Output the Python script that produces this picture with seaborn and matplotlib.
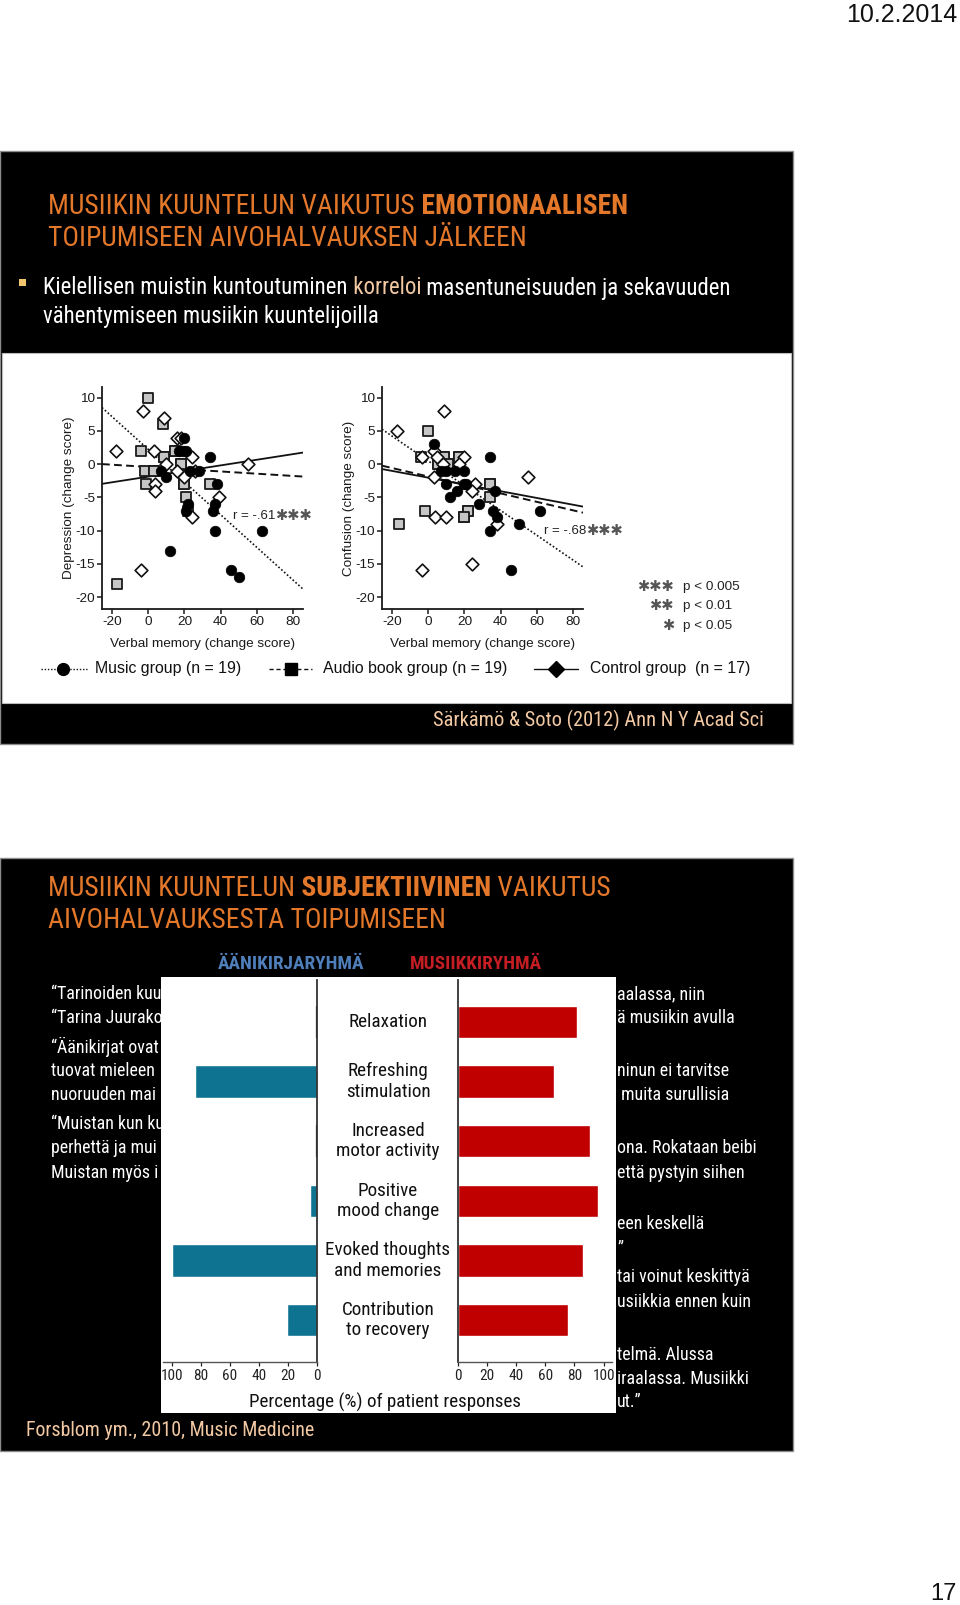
import numpy as np
import matplotlib
matplotlib.use('Agg')
import matplotlib.pyplot as plt
import matplotlib.font_manager as fm
import matplotlib.transforms as mtrans
from matplotlib.patches import Rectangle
from matplotlib.lines import Line2D
import seaborn as sns

# ---------------- data ----------------
# Depression vs verbal memory
dep_music_x = [20, 19, 21, 17, 7, 10, 28, 34, 38, 37, 36, 21, 22, 37, 63, 12, 46, 50, 23]
dep_music_y = [4, 2, 2, 2, -1, -2, -1, 1, -3, -6, -7, -7, -6, -10, -10, -13, -16, -17, -1]
dep_audio_x = [0, 8, -4, -2, -1, 3, 9, 15, 18, 20, 21, 22, 34, -17, 18, 20, 15, 9, 3]
dep_audio_y = [10, 6, 2, -1, -3, -1, 1, 2, 0, -3, -5, -7, -3, -18, 0, -3, 2, 1, -1]
dep_ctrl_x = [-3, 9, -18, 3, 16, 10, 4, 4, 24, 20, 39, 24, 55, -4, 18, 16, 26]
dep_ctrl_y = [8, 7, 2, 2, 4, 0, -3, -4, 1, -2, -5, -8, 0, -16, 4, -1, -1]
dep_fit_music = [2.23, -0.246]      # intercept, slope
dep_fit_audio = [-0.43, -0.0169]
dep_fit_ctrl = [-1.89, 0.0424]

# Confusion vs verbal memory
con_music_x = [3, 34, 7, 10, 15, 20, 10, 12, 16, 20, 21, 28, 37, 36, 38, 34, 50, 62, 46]
con_music_y = [3, 1, -1, -1, -1, -1, -3, -5, -4, -3, -3, -6, -4, -7, -8, -10, -9, -7, -16]
con_audio_x = [0, -4, 5.5, 9, 11, 17, 34, 34, -2, 22, 20, -16, 5.5, 9, 11, 17, 34, 22, 20]
con_audio_y = [5, 1, 0, 1, 0, 1, -3, -5, -7, -7, -8, -9, 0, 1, 0, 1, -3, -7, -8]
con_ctrl_x = [-17, 9, -3.5, 3, 3, 20, 26, 24, 38, 55, 4, 10, -3.5, 24, 17, 5, 8]
con_ctrl_y = [5, 8, 1, 2, -2, 1, -3, -4, -9, -2, -8, -8, -16, -15, 0, 1, 0]
con_fit_music = [0.49, -0.1866]
con_fit_audio = [-1.86, -0.0637]
con_fit_ctrl = [-2.04, -0.0509]

scatter_xticks = [-20, 0, 20, 40, 60, 80]
scatter_yticks = [10, 5, 0, -5, -10, -15, -20]

# Subjective effects (percentage of patient responses)
reasons = ['Relaxation', 'Refreshing\nstimulation', 'Increased\nmotor activity',
           'Positive\nmood change', 'Evoked thoughts\nand memories', 'Contribution\nto recovery']
audio_pct = [0, 84, 0, 5, 100, 21]
music_pct = [82, 66, 91, 96, 86, 76]
pct_ticks = [0, 20, 40, 60, 80, 100]

# ---------------- setup ----------------
sns.set_theme(style='ticks')
plt.rcParams['font.family'] = ['Liberation Sans', 'DejaVu Sans']
plt.rcParams['axes.unicode_minus'] = False

avail = {f.name for f in fm.fontManager.ttflist}
NARROW = 'Liberation Sans'
for cand in ['Liberation Sans Narrow', 'Arial Narrow', 'Nimbus Sans Narrow', 'Roboto Condensed',
             'Open Sans Condensed', 'DejaVu Sans Condensed']:
    if cand in avail:
        NARROW = cand
        break
NF = [NARROW, 'DejaVu Sans']
AF = ['Liberation Sans', 'DejaVu Sans']

W, H = 960, 1605
fig = plt.figure(figsize=(9.6, 16.05), dpi=100)
fig.patch.set_facecolor('white')
bg = fig.add_axes([0, 0, 1, 1])
bg.set_xlim(0, W)
bg.set_ylim(H, 0)
bg.axis('off')
R = fig.canvas.get_renderer()


def fax(x0, y0, x1, y1):
    return fig.add_axes([x0 / W, 1 - y1 / H, (x1 - x0) / W, (y1 - y0) / H])


def width_of(s, size, family, weight='normal'):
    t = bg.text(0, 0, s, fontsize=size, family=family, fontweight=weight)
    w = t.get_window_extent(R).width
    t.remove()
    return w


def fit_size(parts, target, family, base=20.0):
    tot = sum(width_of(s, base, family, wgt) for s, _, wgt in parts)
    return base * target / tot


def rich(x, y, parts, size, family, zorder=3):
    prev = None
    for s, color, wgt in parts:
        if prev is None:
            prev = bg.text(x, y, s, fontsize=size, family=family, color=color, fontweight=wgt,
                           va='center', ha='left', zorder=zorder)
        else:
            prev = bg.annotate(s, xy=(1, 0), xycoords=prev, va='bottom', ha='left', fontsize=size,
                               family=family, color=color, fontweight=wgt, zorder=zorder)
    return prev


ORANGE = '#E4782A'
PEACH = '#F3C9A3'
WHITE = 'white'

# header / footer
bg.text(957, 15, '10.2.2014', ha='right', va='center', fontsize=18, family=AF, color='#111')
bg.text(957, 1594, '17', ha='right', va='center', fontsize=17, family=AF, color='#111')

# ---------------- slide 1 ----------------
bg.add_patch(Rectangle((0, 151), 793, 593, fc='black', ec='#8c8c8c', lw=1, zorder=1))
bg.add_patch(Rectangle((2, 353), 789, 350, fc='white', ec='#bdbdbd', lw=0.8, zorder=1.5))

t1 = [('MUSIIKIN KUUNTELUN VAIKUTUS', ORANGE, 'normal'), (' EMOTIONAALISEN', ORANGE, 'bold')]
tsize = fit_size(t1, 578, NF)
rich(48, 206, t1, tsize, NF)
rich(48, 238, [('TOIPUMISEEN AIVOHALVAUKSEN JÄLKEEN', ORANGE, 'normal')], tsize, NF)

b1 = [('Kielellisen muistin kuntoutuminen', WHITE, 'normal'), (' korreloi', PEACH, 'normal'),
      (' masentuneisuuden ja sekavuuden', WHITE, 'normal')]
bsize = fit_size(b1, 686, NF)
bg.add_patch(Rectangle((19, 279), 7, 7, fc='#F2C46D', ec='none', zorder=3))
rich(43, 288, b1, bsize, NF)
rich(43, 317, [('vähentymiseen musiikin kuuntelijoilla', WHITE, 'normal')], bsize, NF)

c1 = [('Särkämö & Soto (2012) Ann N Y Acad Sci', PEACH, 'normal')]
csize = fit_size(c1, 330, NF)
bg.text(764, 720, c1[0][0], ha='right', va='center', fontsize=csize, family=NF, color=PEACH, zorder=3)


def scatter_panel(ax, mx, my, ax_, ay_, cx, cy, fits, ylabel):
    ax.set_xlim(-25.5, 85.5)
    ax.set_ylim(-21.8, 11.6)
    xs = np.array(ax.get_xlim())
    styles = [((0, (1, 1.3)), 1.2), ((0, (4, 2.2)), 1.4), ('-', 1.3)]
    for (b, m), (ls, lw) in zip(fits, styles):
        ax.plot(xs, b + m * xs, color='#111', ls=ls, lw=lw, zorder=2)
    sns.scatterplot(x=ax_, y=ay_, marker='s', s=46, color='#c6c6c6', edgecolor='#1a1a1a',
                    linewidth=1.3, ax=ax, zorder=3, legend=False)
    sns.scatterplot(x=cx, y=cy, marker='D', s=42, color='white', edgecolor='#111',
                    linewidth=1.2, ax=ax, zorder=3, legend=False)
    sns.scatterplot(x=mx, y=my, marker='o', s=58, color='black', edgecolor='black',
                    linewidth=0.5, ax=ax, zorder=4, legend=False)
    ax.set_xticks(scatter_xticks)
    ax.set_yticks(scatter_yticks)
    sns.despine(ax=ax)
    for sp in ['left', 'bottom']:
        ax.spines[sp].set_linewidth(1.3)
        ax.spines[sp].set_color('#1a1a1a')
    ax.tick_params(direction='out', length=3.5, width=1.1, labelsize=9.7, pad=1.5,
                   colors='#1a1a1a')
    ax.set_xlabel('Verbal memory (change score)', fontsize=9.7, labelpad=7, color='#1a1a1a')
    ax.set_ylabel(ylabel, fontsize=9.7, labelpad=0.5, color='#1a1a1a')
    ax.patch.set_alpha(0)


axD = fax(102, 387, 303, 609)
scatter_panel(axD, dep_music_x, dep_music_y, dep_audio_x, dep_audio_y, dep_ctrl_x, dep_ctrl_y,
              [dep_fit_music, dep_fit_audio, dep_fit_ctrl], 'Depression (change score)')
axC = fax(382, 387, 583, 609)
scatter_panel(axC, con_music_x, con_music_y, con_audio_x, con_audio_y, con_ctrl_x, con_ctrl_y,
              [con_fit_music, con_fit_audio, con_fit_ctrl], 'Confusion (change score)')

STAR = '✱'
bg.text(233, 516, 'r = -.61', fontsize=9.5, family=AF, va='center', ha='left', color='#222', zorder=3)
bg.text(275, 516, STAR * 3, fontsize=10.5, family=AF, va='center', ha='left', color='#555', zorder=3)
bg.text(544, 531, 'r = -.68', fontsize=9.5, family=AF, va='center', ha='left', color='#222', zorder=3)
bg.text(586, 531, STAR * 3, fontsize=10.5, family=AF, va='center', ha='left', color='#555', zorder=3)
for n, lab, yy in [(3, 'p < 0.005', 587), (2, 'p < 0.01', 606), (1, 'p < 0.05', 626)]:
    bg.text(674, yy, STAR * n, fontsize=10.5, family=AF, va='center', ha='right', color='#555', zorder=3)
    bg.text(683, yy, lab, fontsize=9.7, family=AF, va='center', ha='left', color='#222', zorder=3)

# legend of groups
leg = [(41, 87, 63, (0, (1, 1.3)), 'o', 8.5, 95, 'Music group (n = 19)'),
       (269, 312, 291, (0, (3, 2)), 's', 8.0, 323, 'Audio book group (n = 19)'),
       (534, 578, 556, '-', 'D', 8.5, 590, 'Control group  (n = 17)')]
for x0, x1, xm, ls, mk, ms, xt, lab in leg:
    bg.add_line(Line2D([x0, x1], [669, 669], color='#111', ls=ls, lw=1.0, zorder=3))
    bg.add_line(Line2D([xm], [669], marker=mk, ms=ms, color='black', ls='none', zorder=3))
    bg.text(xt, 669, lab, fontsize=11.4, family=AF, va='center', ha='left', color='#111', zorder=3)

# ---------------- slide 2 ----------------
bg.add_patch(Rectangle((0, 858), 793, 593, fc='black', ec='#8c8c8c', lw=1, zorder=1))
t2 = [('MUSIIKIN KUUNTELUN', ORANGE, 'normal'), (' SUBJEKTIIVINEN', ORANGE, 'bold'),
      (' VAIKUTUS', ORANGE, 'normal')]
rich(48, 888, t2, tsize, NF)
rich(48, 921, [('AIVOHALVAUKSESTA TOIPUMISEEN', ORANGE, 'normal')], tsize, NF)

hsize = fit_size([('ÄÄNIKIRJARYHMÄ', '', 'bold')], 147, NF)
bg.text(291.5, 964, 'ÄÄNIKIRJARYHMÄ', fontsize=hsize, family=NF, fontweight='bold', color='#4F7FBA',
        ha='center', va='center', zorder=3)
bg.text(475.5, 964, 'MUSIIKKIRYHMÄ', fontsize=hsize, family=NF, fontweight='bold', color='#C41E24',
        ha='center', va='center', zorder=3)

qsize = fit_size([('ä musiikin avulla', '', 'normal')], 118, NF)
left_frag = [('“Tarinoiden kuu', 994), ('“Tarina Juurako', 1018), ('“Äänikirjat ovat', 1047),
             ('tuovat mieleen', 1071), ('nuoruuden mai', 1095), ('“Muistan kun ku', 1124),
             ('perhettä ja mui', 1148), ('Muistan myös i', 1173)]
right_frag = [('aalassa, niin', 994), ('ä musiikin avulla', 1018), ('ninun ei tarvitse', 1071),
              (' muita surullisia', 1095), ('ona. Rokataan beibi', 1148), ('että pystyin siihen', 1173),
              ('een keskellä', 1224), ('”', 1249), ('tai voinut keskittyä', 1277),
              ('usiikkia ennen kuin', 1302), ('telmä. Alussa', 1355), ('iraalassa. Musiikki', 1379),
              ('ut.”', 1402)]
for s, yy in left_frag:
    bg.text(51, yy, s, fontsize=qsize, family=NF, color='white', va='center', ha='left', zorder=3)
for s, yy in right_frag:
    bg.text(617, yy, s, fontsize=qsize, family=NF, color='white', va='center', ha='left', zorder=3)

fsize = fit_size([('Forsblom ym., 2010, Music Medicine', '', 'normal')], 288, NF)
bg.text(26, 1430, 'Forsblom ym., 2010, Music Medicine', fontsize=fsize, family=NF, color=PEACH,
        va='center', ha='left', zorder=3)

# white panel of the bar figure
bg.add_patch(Rectangle((161, 977), 455, 436, fc='white', ec='none', zorder=5))
psize = fit_size([('Percentage (%) of patient responses', '', 'normal')], 272, NF)
bg.text(385, 1402, 'Percentage (%) of patient responses', fontsize=psize, family=NF, color='#111',
        ha='center', va='center', zorder=6)

BLUE = '#0E7391'
RED = '#C00000'
axL = fax(163, 980, 317.3, 1362)
axR = fax(457.5, 980, 612, 1362)
sns.barplot(x=audio_pct, y=reasons, orient='h', color=BLUE, saturation=1, width=0.54, ax=axL)
sns.barplot(x=music_pct, y=reasons, orient='h', color=RED, saturation=1, width=0.54, ax=axR)
for p in axL.patches:
    if p.get_width() == 0:
        p.set_edgecolor('#222')
        p.set_linewidth(1.6)
axL.set_xlim(105.9, 0)
axR.set_xlim(0, 105.8)
for a, keep in [(axL, 'right'), (axR, 'left')]:
    a.patch.set_alpha(0)
    a.set_ylim(5.7, -0.7)
    a.set_yticks([])
    a.set_xlabel('')
    a.set_ylabel('')
    a.set_xticks(pct_ticks)
    a.set_xticklabels([str(v) for v in pct_ticks], fontsize=11, family=NF, color='#222')
    a.tick_params(axis='x', direction='out', length=3, width=0.9, pad=2, colors='#222')
    for sp in ['top', 'left', 'right']:
        a.spines[sp].set_visible(sp == keep)
    a.spines[keep].set_color('#333')
    a.spines[keep].set_linewidth(1.3)
    a.spines['bottom'].set_color('#555')
    a.spines['bottom'].set_linewidth(1.0)

lsize = fit_size([('Evoked thoughts', '', 'normal')], 125, NF)
tr = mtrans.blended_transform_factory(axR.transAxes, axR.transData)
for i, lab in enumerate(reasons):
    axR.text(-0.45, i, lab, transform=tr, ha='center', va='center', fontsize=lsize, family=NF,
             color='#111', linespacing=1.15, clip_on=False)

fig.savefig('out.png', dpi=100, facecolor='white')
